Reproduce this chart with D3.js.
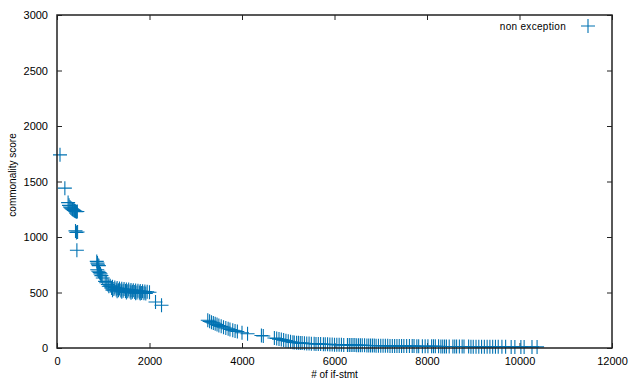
<!DOCTYPE html>
<html>
<head>
<meta charset="utf-8">
<script src="https://cdn.jsdelivr.net/npm/d3@7"></script>
<style>
  body { margin: 0; background: #fff; }
  text { font-family: "Liberation Sans", Arial, sans-serif; fill: #000; }
</style>
</head>
<body>
<div id="chart"></div>
<script>
// chart data
const seriesName = 'non exception';
const xTicks = [0, 2000, 4000, 6000, 8000, 10000, 12000];
const yTicks = [0, 500, 1000, 1500, 2000, 2500, 3000];

// # of if-stmt / commonality score pairs, split by clusters
const headPoints = [
  [65, 1740], [170, 1440], [240, 1310], [260, 1285], [280, 1270], [300, 1262],
  [320, 1255], [335, 1250], [350, 1245], [365, 1240], [380, 1236], [400, 1232],
  [420, 1228], [440, 1230], [400, 1055], [420, 1040], [445, 1045], [430, 880]
];
const middlePoints = [
  [860, 780], [875, 765], [885, 750], [905, 742], [870, 705], [895, 692],
  [920, 680], [940, 668], [960, 652], [990, 630], [1040, 600], [1065, 588],
  [1100, 572], [1150, 560], [1200, 552], [1250, 546], [1300, 541], [1350, 537],
  [1400, 533], [1450, 531], [1500, 528], [1550, 526], [1600, 523], [1650, 521],
  [1700, 519], [1750, 516], [1800, 513], [1850, 511], [1900, 508], [1950, 506],
  [2000, 502], [1120, 556], [1180, 541], [1230, 531], [1280, 526], [1330, 521],
  [1380, 519], [1430, 516], [1480, 513], [1530, 511], [1580, 509], [1630, 506],
  [1680, 504], [1730, 501], [1780, 499], [1830, 496], [1880, 494], [1920, 491],
  [1200, 521], [1300, 511], [1400, 506], [1500, 501], [1600, 497], [1700, 494],
  [1800, 491], [2130, 415], [2260, 385]
];
const tailPoints = [
  [3260, 250], [3300, 240], [3340, 232], [3380, 226], [3420, 218], [3460, 211],
  [3500, 203], [3550, 195], [3600, 188], [3650, 180], [3700, 173], [3740, 167],
  [3800, 160], [3850, 154], [3900, 148], [4000, 138], [4120, 128], [4420, 112],
  [4460, 108], [4700, 90], [4750, 85], [4800, 80], [4850, 76], [4900, 71],
  [4950, 66], [5000, 61], [5050, 56], [5100, 52], [5130, 50], [5180, 48],
  [5220, 47], [5260, 45], [5300, 44], [5350, 42], [5400, 41], [5450, 40],
  [5500, 39], [5560, 38], [5600, 37], [5650, 36], [5700, 35], [5760, 34],
  [5800, 33], [5850, 33], [5900, 32], [5950, 31], [6000, 30], [6050, 30],
  [6100, 29], [6150, 29], [6200, 28], [6280, 28], [6320, 27], [6360, 27],
  [6400, 26], [6440, 26], [6480, 25], [6520, 25], [6560, 24], [6600, 24],
  [6650, 24], [6700, 23], [6740, 23], [6780, 22], [6820, 22], [6860, 22],
  [6900, 21], [6950, 21], [7000, 21], [7050, 20], [7100, 20], [7150, 20],
  [7200, 19], [7250, 19], [7300, 19], [7350, 18], [7400, 18], [7450, 18],
  [7500, 18], [7560, 17], [7620, 17], [7680, 17], [7720, 17], [7780, 16],
  [7820, 16], [7900, 16], [7960, 16], [8020, 15], [8100, 15], [8140, 15],
  [8180, 15], [8250, 15], [8300, 14], [8340, 14], [8380, 14], [8420, 14],
  [8480, 14], [8560, 14], [8600, 13], [8640, 13], [8700, 13], [8760, 13],
  [8800, 13], [8900, 13], [8950, 12], [9000, 12], [9060, 12], [9120, 12],
  [9180, 12], [9240, 12], [9300, 12], [9360, 11], [9420, 11], [9480, 11],
  [9540, 11], [9620, 11], [9700, 11], [9820, 10], [9900, 10], [10030, 10],
  [10100, 10], [10270, 10], [10380, 10]
];

//////////////////////////////////////
// layout
//////////////////////////////////////
const WIDTH = 629;
const HEIGHT = 380;
const LEFT = 57, RIGHT = 612, TOP = 15, BOTTOM = 348;
const BLUE = '#0072b2';
const TICK = 5;
const FONT = '"Liberation Sans", Arial, sans-serif';
const fmt = d3.format('d');

const svg = d3.select('#chart').append('svg')
  .attr('width', WIDTH)
  .attr('height', HEIGHT);

const x = d3.scaleLinear().domain([0, 12000]).range([LEFT, RIGHT]);
const y = d3.scaleLinear().domain([0, 3000]).range([BOTTOM, TOP]);

// bottom + top axes (ticks inward, mirrored)
svg.append('g')
  .attr('transform', 'translate(0,' + BOTTOM + ')')
  .call(d3.axisBottom(x).tickValues(xTicks).tickFormat(fmt).tickSizeInner(-TICK).tickSizeOuter(0).tickPadding(9))
  .call(g => g.select('.domain').remove())
  .call(g => g.selectAll('text').attr('font-size', 11).attr('font-family', FONT));

svg.append('g')
  .attr('transform', 'translate(0,' + TOP + ')')
  .call(d3.axisTop(x).tickValues(xTicks).tickSizeInner(-TICK).tickSizeOuter(0).tickFormat(''))
  .call(g => g.select('.domain').remove());

// left + right axes
svg.append('g')
  .attr('transform', 'translate(' + LEFT + ',0)')
  .call(d3.axisLeft(y).tickValues(yTicks).tickFormat(fmt).tickSizeInner(-TICK).tickSizeOuter(0).tickPadding(9))
  .call(g => g.select('.domain').remove())
  .call(g => g.selectAll('text').attr('font-size', 11).attr('font-family', FONT));

svg.append('g')
  .attr('transform', 'translate(' + RIGHT + ',0)')
  .call(d3.axisRight(y).tickValues(yTicks).tickSizeInner(-TICK).tickSizeOuter(0).tickFormat(''))
  .call(g => g.select('.domain').remove());

svg.selectAll('.tick line').attr('stroke', '#222').attr('stroke-width', 1);

// points
const allPoints = headPoints.concat(middlePoints, tailPoints);
const plus = 'M-7,0H7M0,-7V7';

svg.append('g').selectAll('path')
  .data(allPoints)
  .join('path')
  .attr('d', plus)
  .attr('transform', d => 'translate(' + x(d[0]) + ',' + y(d[1]) + ')')
  .attr('fill', 'none')
  .attr('stroke', BLUE)
  .attr('stroke-width', 1.1);

// border
svg.append('rect')
  .attr('x', LEFT).attr('y', TOP)
  .attr('width', RIGHT - LEFT).attr('height', BOTTOM - TOP)
  .attr('fill', 'none')
  .attr('stroke', '#222')
  .attr('stroke-width', 1.5);

// legend
svg.append('text')
  .attr('x', 566).attr('y', 30)
  .attr('text-anchor', 'end')
  .attr('font-size', 10)
  .attr('letter-spacing', 0.3)
  .text(seriesName);
svg.append('path')
  .attr('d', plus)
  .attr('transform', 'translate(588,26)')
  .attr('fill', 'none')
  .attr('stroke', BLUE)
  .attr('stroke-width', 1.1);

// axis titles
svg.append('text')
  .attr('x', (LEFT + RIGHT) / 2).attr('y', 378)
  .attr('text-anchor', 'middle')
  .attr('font-size', 10)
  .text('# of if-stmt');

svg.append('text')
  .attr('transform', 'translate(16,175)rotate(-90)')
  .attr('text-anchor', 'middle')
  .attr('font-size', 10)
  .text('commonality score');
</script>
</body>
</html>
